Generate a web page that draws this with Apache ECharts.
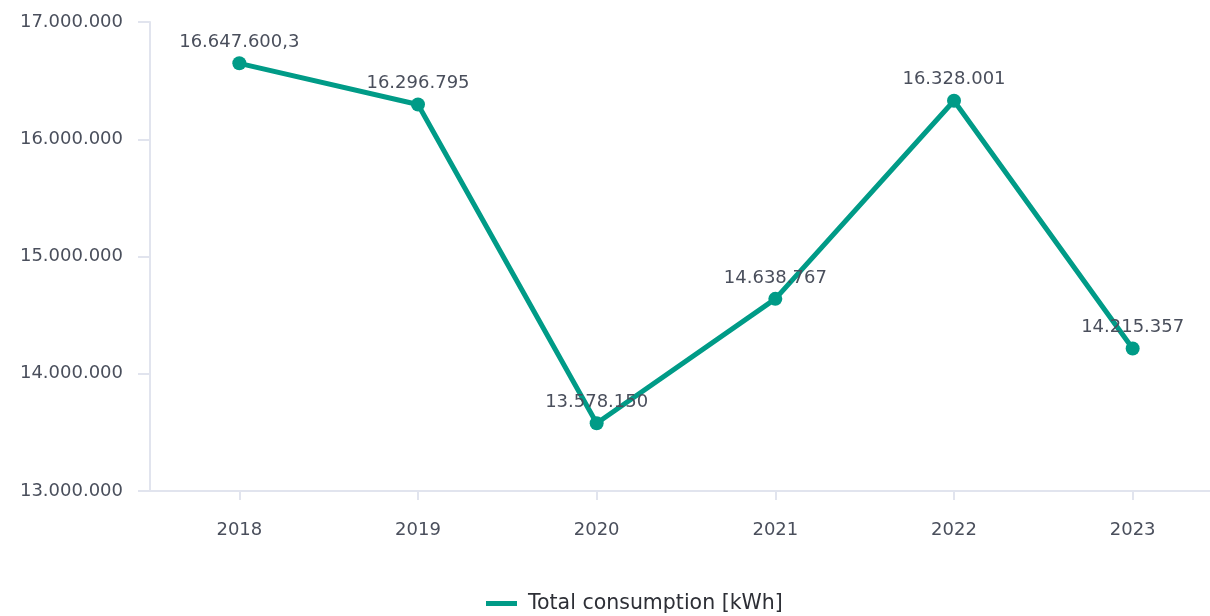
<!DOCTYPE html>
<html style="height: 100%">
<head>
  <meta charset="utf-8">
</head>
<body style="height: 100%; margin: 0; background: #fff">
  <div id="container" style="width: 1210px; height: 616px"></div>

  <script type="text/javascript" src="https://cdn.jsdelivr.net/npm/echarts@6/dist/echarts.min.js"></script>
  <script type="text/javascript">
    var years = ['2018', '2019', '2020', '2021', '2022', '2023'];
    var consumption = [16647600.3, 16296795, 13578150, 14638767, 16328001, 14215357];
    var seriesName = 'Total consumption [kWh]';

    // 16647600.3 -> "16.647.600,3"
    function fmt(v) {
      var parts = String(v).split('.');
      var int = parts[0].replace(/\B(?=(\d{3})+(?!\d))/g, '.');
      return parts.length > 1 ? int + ',' + parts[1] : int;
    }

    var textColor = '#4a4f5c';
    var axisColor = '#e1e4ee';
    var fontFamily = '"DejaVu Sans", sans-serif';

    var dom = document.getElementById('container');
    var myChart = echarts.init(dom);

    var option = {
      animation: false,
      textStyle: { fontFamily: fontFamily },
      grid: {
        left: 150,
        top: 22,
        width: 1072,
        bottom: 125,
        outerBoundsMode: 'none'
      },
      legend: {
        bottom: -3,
        left: 481,
        icon: 'rect',
        itemWidth: 31,
        itemHeight: 5,
        textStyle: { fontSize: 20.5, color: '#2d2f36', fontFamily: fontFamily, padding: [0, 0, 0, 6] }
      },
      xAxis: {
        type: 'category',
        data: years,
        axisLine: { show: true, lineStyle: { color: axisColor, width: 2 } },
        axisTick: { show: true, alignWithLabel: true, length: 9, lineStyle: { color: axisColor, width: 2 } },
        axisLabel: { margin: 30, fontSize: 18, color: textColor }
      },
      yAxis: {
        type: 'value',
        min: 13000000,
        max: 17000000,
        interval: 1000000,
        splitLine: { show: false },
        axisLine: { show: true, lineStyle: { color: axisColor, width: 2 } },
        axisTick: { show: true, length: 12, lineStyle: { color: axisColor, width: 2 } },
        axisLabel: { margin: 27, fontSize: 18, color: textColor, formatter: fmt }
      },
      series: [
        {
          name: seriesName,
          type: 'line',
          data: consumption,
          symbol: 'circle',
          symbolSize: 14,
          color: '#009b87',
          lineStyle: { width: 5 },
          label: {
            show: true,
            position: 'top',
            distance: 5,
            fontSize: 18,
            color: textColor,
            formatter: function (p) { return fmt(p.value); }
          }
        }
      ]
    };

    if (option && typeof option === 'object') {
      myChart.setOption(option);
    }
  </script>
</body>
</html>
